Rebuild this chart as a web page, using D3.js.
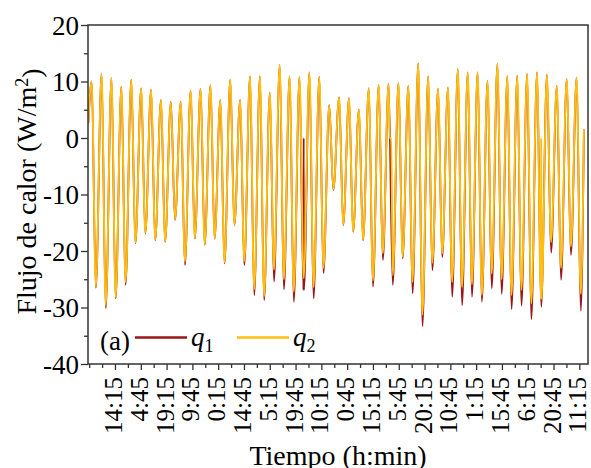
<!DOCTYPE html>
<html>
<head>
<meta charset="utf-8">
<script src="https://cdn.jsdelivr.net/npm/d3@7"></script>
<style>
  body { margin: 0; background: #fff; }
  svg text { font-family: "Liberation Serif", "Times New Roman", Times, serif; fill: #000; }
</style>
</head>
<body>
<div id="vis"></div>
<script>
// Valores (W/m2). Un pico y un valle por ciclo.
const picos = [10.0, 11.4, 10.6, 9.1, 10.3, 8.8, 8.5, 6.7, 6.4, 6.4,
               8.4, 8.7, 9.3, 6.7, 10.3, 6.7, 10.9, 10.9, 8.0, 12.9,
               10.9, 10.8, 11.6, 10.8, 5.8, 7.2, 7.0, 5.0, 8.8, 9.4,
               9.6, 9.7, 9.2, 13.2, 10.9, 8.7, 8.9, 12.2, 11.6, 11.6,
               10.1, 13.1, 10.9, 11.0, 11.3, 11.6, 11.2, 9.2, 10.4, 10.7];

const vallesQ1 = [-26.5, -30.1, -28.4, -26.0, -18.6, -16.9, -18.1, -18.4, -14.5, -22.5,
                  -17.8, -18.9, -17.8, -22.2, -15.4, -22.5, -27.8, -28.7, -25.4, -26.8,
                  -29.0, -26.9, -28.4, -23.9, -9.2, -15.4, -16.6, -18.1, -26.3, -21.6,
                  -26.0, -21.3, -27.5, -33.3, -23.4, -21.1, -28.1, -29.6, -28.1, -29.0,
                  -26.6, -27.6, -30.3, -29.7, -32.1, -29.9, -20.3, -25.1, -20.7, -30.6];

const vallesQ2 = [-26.3, -29.6, -28.2, -25.5, -18.5, -16.8, -18.0, -18.3, -14.4, -21.9,
                  -17.7, -18.8, -17.7, -22.0, -15.3, -21.8, -26.8, -28.0, -23.3, -25.0,
                  -27.2, -24.8, -26.4, -23.0, -9.1, -15.3, -16.5, -18.0, -25.2, -20.4,
                  -24.3, -21.0, -25.5, -31.3, -22.1, -20.4, -25.5, -26.4, -25.9, -27.8,
                  -24.0, -25.0, -27.8, -26.9, -29.3, -28.5, -18.4, -23.0, -19.2, -27.6];

const valorInicio = 2.6, valorFin = 1.5;

// lecturas en cero (indice del ciclo)
const cerosQ1 = [21];     // valle con salto a 0
const cerosQ2 = [45];
const mesetasQ2 = [30];   // q2 se queda en 0 tras el pico

// tiempo en horas
const t0 = 1.4, periodo = 5.563, tInicio = -0.5, tFin = 278.1;
const pasoTick = 14.5;
const etiquetasX = ["14:15", "4:45", "19:15", "9:45", "0:15", "14:45", "5:15", "19:45", "10:15",
                    "0:45", "15:15", "5:45", "20:15", "10:45", "1:15", "15:45", "6:15", "20:45", "11:15"];
const ticksY = [-40, -30, -20, -10, 0, 10, 20];
const ticksYmenor = [-35, -25, -15, -5, 5, 15];

const colorQ1 = "#9a1518", colorQ2 = "#ffbf12";

const W = 591, H = 468;
const margen = { left: 88, right: 3, top: 25, bottom: 104 };

const SVG = d3.select("#vis").append("svg")
  .attr("width", W)
  .attr("height", H);

const escalaX = d3.scaleLinear()
  .domain([-0.675, 280.38])
  .range([margen.left, W - margen.right]);

const escalaY = d3.scaleLinear()
  .domain([-40, 20])
  .range([H - margen.bottom, margen.top]);

function serie(valles, ceros, mesetas) {
  const pts = [[tInicio, valorInicio]];
  picos.forEach((p, i) => {
    const tp = t0 + i * periodo;
    pts.push([tp, p]);
    if (mesetas.includes(i)) pts.push([tp + 0.6, 0], [tp + 1.5, 0]);
    const tv = tp + 0.42 * periodo;
    if (ceros.includes(i)) {
      pts.push([tv - 0.15, valles[i]], [tv, 0], [tv + 0.15, valles[i]]);
    } else {
      pts.push([tv, valles[i]]);
    }
  });
  pts.push([tFin, valorFin]);
  return pts;
}

const linea = d3.line()
  .x(d => escalaX(d[0]))
  .y(d => escalaY(d[1]))
  .curve(d3.curveMonotoneX);

SVG.append("clipPath").attr("id", "recorte")
  .append("rect")
  .attr("x", margen.left).attr("y", margen.top)
  .attr("width", W - margen.left - margen.right)
  .attr("height", H - margen.top - margen.bottom);

const lineas = SVG.append("g").attr("clip-path", "url(#recorte)");

lineas.append("path")
  .attr("d", linea(serie(vallesQ1, cerosQ1, [])))
  .attr("fill", "none")
  .attr("stroke", colorQ1)
  .attr("stroke-width", 1.8);

lineas.append("path")
  .attr("d", linea(serie(vallesQ2, cerosQ2, mesetasQ2)))
  .attr("fill", "none")
  .attr("stroke", colorQ2)
  .attr("stroke-width", 1.9);

// eje Y
const ejeY = SVG.append("g")
  .attr("transform", `translate(${margen.left},0)`)
  .call(d3.axisLeft(escalaY).tickValues(ticksY).tickSize(7).tickPadding(2)
    .tickFormat(d => String(d)));
ejeY.selectAll("text").style("font-size", "27px").attr("dy", "0.34em");

SVG.append("g")
  .attr("transform", `translate(${margen.left},0)`)
  .call(d3.axisLeft(escalaY).tickValues(ticksYmenor).tickSize(4).tickFormat(""));

// eje X
const valoresX = etiquetasX.map((_, i) => (i + 1) * pasoTick);
const ejeX = SVG.append("g")
  .attr("transform", `translate(0,${H - margen.bottom})`)
  .call(d3.axisBottom(escalaX).tickValues(valoresX).tickSize(6)
    .tickFormat((_, i) => etiquetasX[i]));
ejeX.selectAll("text")
  .style("font-size", "25px")
  .attr("text-anchor", "end")
  .attr("transform", "rotate(-90)")
  .attr("x", -13)
  .attr("y", 0)
  .attr("dy", "0.26em");

const menoresX = [0].concat(etiquetasX.map((_, i) => (i + 0.5) * pasoTick));
SVG.append("g")
  .attr("transform", `translate(0,${H - margen.bottom})`)
  .call(d3.axisBottom(escalaX).tickValues(menoresX).tickSize(4).tickFormat(""));

SVG.selectAll(".domain").remove();
SVG.selectAll(".tick line").attr("stroke", "#333").attr("stroke-width", 1.3);
SVG.selectAll("g").attr("font-family", null);

// marco
SVG.append("rect")
  .attr("x", margen.left).attr("y", margen.top)
  .attr("width", W - margen.left - margen.right)
  .attr("height", H - margen.top - margen.bottom)
  .attr("fill", "none")
  .attr("stroke", "#333")
  .attr("stroke-width", 1.5);

// titulos
SVG.append("text")
  .attr("x", (margen.left + W - margen.right) / 2)
  .attr("y", 465)
  .attr("text-anchor", "middle")
  .style("font-size", "28px")
  .text("Tiempo (h:min)");

const tituloY = SVG.append("text")
  .attr("transform", `translate(36,${(margen.top + H - margen.bottom) / 2 - 3}) rotate(-90)`)
  .attr("text-anchor", "middle")
  .style("font-size", "28px");
tituloY.append("tspan").text("Flujo de calor (W/m");
tituloY.append("tspan").attr("dy", "-0.45em").style("font-size", "18px").text("2");
tituloY.append("tspan").attr("dy", "0.45em").text(")");

// leyenda
const ley = SVG.append("g");
ley.append("text").attr("x", 100).attr("y", 350).style("font-size", "27px").text("(a)");

const itemsLeyenda = [
  { x: 135, color: colorQ1, sub: "1" },
  { x: 237, color: colorQ2, sub: "2" }
];
itemsLeyenda.forEach(it => {
  ley.append("line")
    .attr("x1", it.x).attr("x2", it.x + 52)
    .attr("y1", 337.5).attr("y2", 337.5)
    .attr("stroke", it.color).attr("stroke-width", 2.6);
  const t = ley.append("text").attr("x", it.x + 56).attr("y", 346).style("font-size", "27px");
  t.append("tspan").style("font-style", "italic").text("q");
  t.append("tspan").attr("dy", "6").style("font-size", "18px").text(it.sub);
});
</script>
</body>
</html>
